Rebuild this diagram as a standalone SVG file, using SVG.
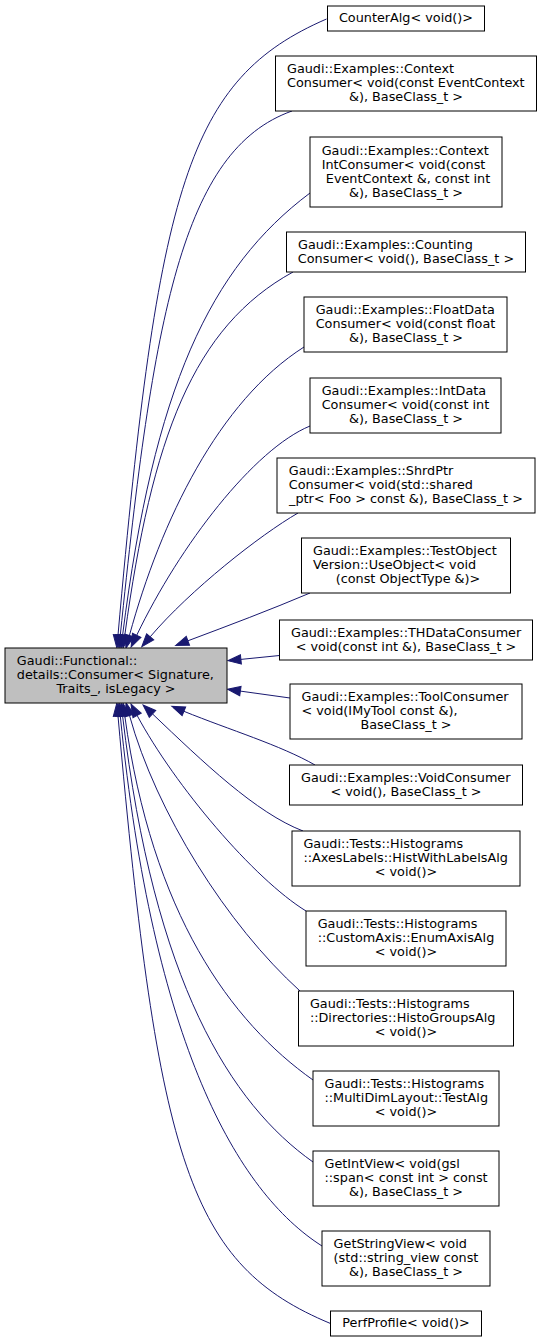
<svg xmlns="http://www.w3.org/2000/svg" width="543" height="1343" viewBox="0 0 543 1343">
<defs>
<style>
.node rect{fill:#ffffff;stroke:#000000;stroke-width:1}
#main rect{fill:#bfbfbf}
text{font-family:"DejaVu Sans","Liberation Sans",sans-serif;font-size:12.8px;fill:#000000}
.c{text-anchor:middle}
.edge{fill:none;stroke:#191970;stroke-width:1;marker-end:url(#ah)}
</style>
<marker id="ah" markerUnits="userSpaceOnUse" markerWidth="14" markerHeight="11" refX="0" refY="5" orient="auto" overflow="visible">
<path d="M0,0.3 L13,5 L0,9.7 z" fill="#191970" stroke="#191970" stroke-width="1"/>
</marker>
</defs>
<rect x="0" y="0" width="543" height="1343" fill="#ffffff"/>
<g id="edges">
<path class="edge" d="M326.5,19 C188,79 158,185 118,635"/>
<path class="edge" d="M292,111 C182,150 153,317 120.3,635.1"/>
<path class="edge" d="M310,193 C210,268 154,387 122.6,635.1"/>
<path class="edge" d="M293,272 C193,327 152,437 124.8,635.1"/>
<path class="edge" d="M304,347 C219,401 161,520 129.4,635.5"/>
<path class="edge" d="M310,426 C254,449 180,545 136.7,635.3"/>
<path class="edge" d="M298,513 C260,535 190,590 150.2,636.8"/>
<path class="edge" d="M310,593 C270,610 230,625 187.9,640.8"/>
<path class="edge" d="M279.5,655.5 L240.9,659.4"/>
<path class="edge" d="M290,698 L240.4,691.1"/>
<path class="edge" d="M315,765 C280,745 230,730 183.9,711.3"/>
<path class="edge" d="M303,831 C256,813 203,762 152.5,713.9"/>
<path class="edge" d="M306,911 C254,879 175,786 137.1,715.4"/>
<path class="edge" d="M300,991 C227,925 156,812 129.5,715.5"/>
<path class="edge" d="M313,1080 C231,1022 152,914 124.8,716"/>
<path class="edge" d="M313,1162 C231,1104 154,983 122.6,716"/>
<path class="edge" d="M322,1246 C237,1192 153,1044 120.3,716"/>
<path class="edge" d="M330.5,1323.5 C190,1265 158,1165 118,716"/>
</g>
<g id="main" class="node">
<rect x="5" y="648" width="222" height="55"/>
<text x="16.8" y="665">Gaudi::Functional::</text>
<text x="16.8" y="679">details::Consumer&lt; Signature,</text>
<text class="c" x="116" y="693">Traits_, isLegacy &gt;</text>
</g>
<g id="n1" class="node">
<rect x="327.5" y="6" width="157" height="25"/>
<text class="c" x="406" y="22">CounterAlg&lt; void()&gt;</text>
</g>
<g id="n2" class="node">
<rect x="275.5" y="56" width="261" height="55"/>
<text x="287" y="73">Gaudi::Examples::Context</text>
<text x="287" y="87">Consumer&lt; void(const EventContext</text>
<text class="c" x="406" y="101">&amp;), BaseClass_t &gt;</text>
</g>
<g id="n3" class="node">
<rect x="310" y="137" width="192" height="70"/>
<text x="321.7" y="154.5">Gaudi::Examples::Context</text>
<text x="321.7" y="168.5">IntConsumer&lt; void(const</text>
<text x="325.8" y="182.5">EventContext &amp;, const int</text>
<text class="c" x="406" y="196.5">&amp;), BaseClass_t &gt;</text>
</g>
<g id="n4" class="node">
<rect x="286.5" y="232" width="239" height="40"/>
<text x="298" y="248.5">Gaudi::Examples::Counting</text>
<text class="c" x="406" y="262.5">Consumer&lt; void(), BaseClass_t &gt;</text>
</g>
<g id="n5" class="node">
<rect x="304" y="297" width="203" height="55"/>
<text x="315.7" y="314">Gaudi::Examples::FloatData</text>
<text x="315.7" y="328">Consumer&lt; void(const float</text>
<text class="c" x="406" y="342">&amp;), BaseClass_t &gt;</text>
</g>
<g id="n6" class="node">
<rect x="310" y="378" width="191" height="55"/>
<text x="321.7" y="395">Gaudi::Examples::IntData</text>
<text x="321.7" y="409">Consumer&lt; void(const int</text>
<text class="c" x="406" y="423">&amp;), BaseClass_t &gt;</text>
</g>
<g id="n7" class="node">
<rect x="277" y="458" width="258" height="55"/>
<text x="288.8" y="475">Gaudi::Examples::ShrdPtr</text>
<text x="288.8" y="489">Consumer&lt; void(std::shared</text>
<text class="c" x="406" y="503">_ptr&lt; Foo &gt; const &amp;), BaseClass_t &gt;</text>
</g>
<g id="n8" class="node">
<rect x="301.5" y="538" width="209" height="55"/>
<text x="313" y="555">Gaudi::Examples::TestObject</text>
<text x="313" y="569">Version::UseObject&lt; void</text>
<text class="c" x="408" y="583">(const ObjectType &amp;)&gt;</text>
</g>
<g id="n9" class="node">
<rect x="279.5" y="620" width="253" height="40"/>
<text x="291" y="636.5">Gaudi::Examples::THDataConsumer</text>
<text class="c" x="406" y="650.5">&lt; void(const int &amp;), BaseClass_t &gt;</text>
</g>
<g id="n10" class="node">
<rect x="290" y="684" width="232" height="55"/>
<text x="301.5" y="701">Gaudi::Examples::ToolConsumer</text>
<text x="301.5" y="715">&lt; void(IMyTool const &amp;),</text>
<text class="c" x="406" y="729">BaseClass_t &gt;</text>
</g>
<g id="n11" class="node">
<rect x="289.5" y="765" width="233" height="40"/>
<text x="301" y="781.5">Gaudi::Examples::VoidConsumer</text>
<text class="c" x="406" y="795.5">&lt; void(), BaseClass_t &gt;</text>
</g>
<g id="n12" class="node">
<rect x="292" y="831" width="228" height="55"/>
<text x="303.4" y="848">Gaudi::Tests::Histograms</text>
<text x="303.4" y="862">::AxesLabels::HistWithLabelsAlg</text>
<text class="c" x="406" y="876">&lt; void()&gt;</text>
</g>
<g id="n13" class="node">
<rect x="306" y="911" width="200" height="55"/>
<text x="317.7" y="928">Gaudi::Tests::Histograms</text>
<text x="317.7" y="942">::CustomAxis::EnumAxisAlg</text>
<text class="c" x="406" y="956">&lt; void()&gt;</text>
</g>
<g id="n14" class="node">
<rect x="298.5" y="991" width="215" height="55"/>
<text x="309.9" y="1008">Gaudi::Tests::Histograms</text>
<text x="309.9" y="1022">::Directories::HistoGroupsAlg</text>
<text class="c" x="406" y="1036">&lt; void()&gt;</text>
</g>
<g id="n15" class="node">
<rect x="313" y="1071" width="186" height="55"/>
<text x="324.5" y="1088">Gaudi::Tests::Histograms</text>
<text x="324.5" y="1102">::MultiDimLayout::TestAlg</text>
<text class="c" x="406" y="1116">&lt; void()&gt;</text>
</g>
<g id="n16" class="node">
<rect x="313" y="1151" width="186" height="55"/>
<text x="324.5" y="1168">GetIntView&lt; void(gsl</text>
<text x="324.5" y="1182">::span&lt; const int &gt; const</text>
<text class="c" x="406" y="1196">&amp;), BaseClass_t &gt;</text>
</g>
<g id="n17" class="node">
<rect x="322" y="1231" width="168" height="55"/>
<text x="333.6" y="1248">GetStringView&lt; void</text>
<text x="333.6" y="1262">(std::string_view const</text>
<text class="c" x="406" y="1276">&amp;), BaseClass_t &gt;</text>
</g>
<g id="n18" class="node">
<rect x="330.5" y="1311" width="151" height="25"/>
<text class="c" x="406" y="1327">PerfProfile&lt; void()&gt;</text>
</g>
</svg>
